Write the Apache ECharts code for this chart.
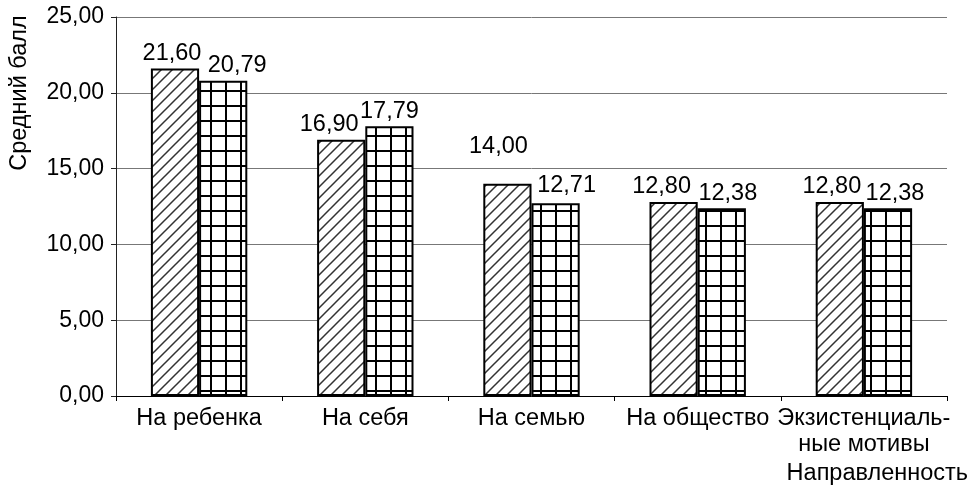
<!DOCTYPE html>
<html>
<head>
<meta charset="utf-8">
<script src="https://cdn.jsdelivr.net/npm/echarts@6/dist/echarts.min.js"></script>
<style>
  html, body { margin: 0; padding: 0; background: #fff; }
  #chart { width: 974px; height: 487px; }
</style>
</head>
<body>
<div id="chart"></div>
<script>
var categories = ['На ребенка', 'На себя', 'На семью', 'На общество', 'Экзистенциаль-\nные мотивы'];
var group1 = [21.60, 16.90, 14.00, 12.80, 12.80];
var group2 = [20.79, 17.79, 12.71, 12.38, 12.38];
var yTicks = [0, 5, 10, 15, 20, 25];

// label nudges, as Excel placed them
var offs1 = [[-3, 0], [-12, 0], [-9, -22], [-12, 0], [-8, 0]];
var offs2 = [[14, 0], [0, 0], [11, -3], [6, 0], [7, 0]];

function fmt(v) { return v.toFixed(2).replace('.', ','); }

// diagonal hatch pattern
function hatch() {
    var c = document.createElement('canvas');
    c.width = 11; c.height = 11;
    var g = c.getContext('2d');
    g.fillStyle = '#fff'; g.fillRect(0, 0, 11, 11);
    g.strokeStyle = '#333'; g.lineWidth = 1.5;
    g.beginPath();
    g.moveTo(-1, 12); g.lineTo(12, -1);
    g.moveTo(-12, 12); g.lineTo(1, -1);
    g.moveTo(10, 12); g.lineTo(23, -1);
    g.stroke();
    return c;
}
// square grid pattern
function grid() {
    var c = document.createElement('canvas');
    c.width = 15; c.height = 15;
    var g = c.getContext('2d');
    g.fillStyle = '#fff'; g.fillRect(0, 0, 15, 15);
    g.fillStyle = '#000';
    g.fillRect(0, 0, 2, 15);
    g.fillRect(0, 0, 15, 2);
    return c;
}

function items(vals, offs) {
    return vals.map(function (v, i) {
        return { value: v, label: { offset: offs[i] } };
    });
}

var myChart = echarts.init(document.getElementById('chart'));
var font = 'Liberation Sans, Arial, sans-serif';
var fs = 23.5;
var option = {
    animation: false,
    textStyle: { fontFamily: font },
    grid: { left: 116, right: 27, top: 17, bottom: 91 },
    xAxis: {
        type: 'category',
        data: categories,
        axisLine: { lineStyle: { color: '#000', width: 1 } },
        axisTick: { show: true, length: 5, lineStyle: { color: '#000' } },
        axisLabel: { color: '#000', fontSize: fs, margin: 10, lineHeight: 26, interval: 0 }
    },
    yAxis: {
        type: 'value',
        min: yTicks[0],
        max: yTicks[yTicks.length - 1],
        interval: 5,
        axisLine: { show: true, lineStyle: { color: '#222' } },
        axisTick: { show: true, length: 5, lineStyle: { color: '#222' } },
        axisLabel: { color: '#000', fontSize: 23, margin: 12, formatter: fmt },
        splitLine: { lineStyle: { color: '#777', width: 1 } }
    },
    series: [{
        name: 'Группа 1',
        type: 'bar',
        data: items(group1, offs1),
        barGap: '0%',
        barCategoryGap: '42%',
        itemStyle: { color: { image: hatch(), repeat: 'repeat' }, borderColor: '#000', borderWidth: 2 },
        label: { show: true, position: 'top', distance: 3, color: '#000', fontSize: fs, formatter: function (p) { return fmt(p.value); } }
    }, {
        name: 'Группа 2',
        type: 'bar',
        data: items(group2, offs2),
        itemStyle: { color: { image: grid(), repeat: 'repeat' }, borderColor: '#000', borderWidth: 2 },
        label: { show: true, position: 'top', distance: 3, color: '#000', fontSize: fs, formatter: function (p) { return fmt(p.value); } }
    }],
    graphic: [{
        type: 'text',
        x: 20, y: 93,
        rotation: Math.PI / 2,
        style: { text: 'Средний балл', font: fs + 'px ' + font, fill: '#000', align: 'center', verticalAlign: 'middle' }
    }, {
        type: 'text',
        right: 6, top: 462,
        style: { text: 'Направленность', font: fs + 'px ' + font, fill: '#000' }
    }]
};
myChart.setOption(option);
</script>
</body>
</html>
